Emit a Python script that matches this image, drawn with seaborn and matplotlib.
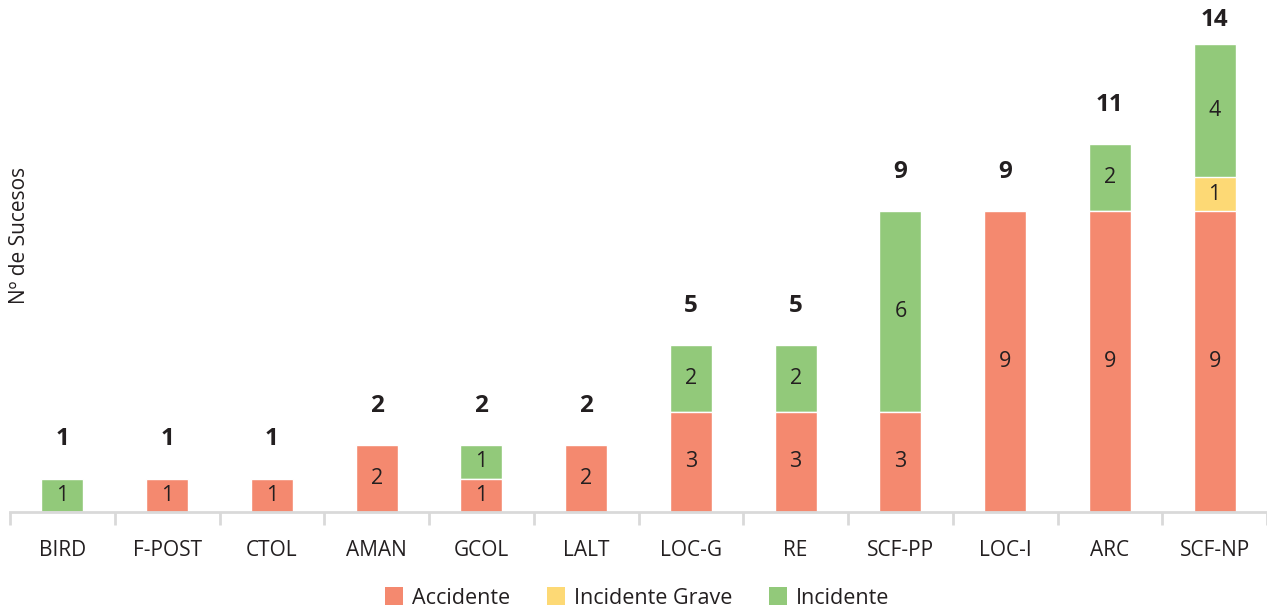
import numpy as np
import pandas as pd
import matplotlib
matplotlib.use("Agg")
import matplotlib.pyplot as plt
import seaborn as sns
from matplotlib.patches import Patch

categories = ["BIRD", "F-POST", "CTOL", "AMAN", "GCOL", "LALT",
              "LOC-G", "RE", "SCF-PP", "LOC-I", "ARC", "SCF-NP"]
accidente = [0, 1, 1, 2, 1, 2, 3, 3, 3, 9, 9, 9]
incidente_grave = [0, 0, 0, 0, 0, 0, 0, 0, 0, 0, 0, 1]
incidente = [1, 0, 0, 0, 1, 0, 2, 2, 6, 0, 2, 4]
series_names = ["Accidente", "Incidente Grave", "Incidente"]

colors = {"Accidente": "#F4896F", "Incidente Grave": "#FDD975", "Incidente": "#92C97A"}
text_color = "#231F20"
axis_gray = "#D9D9D9"

sns.set_style("white")
plt.rcParams["font.family"] = ["Open Sans", "DejaVu Sans"]

acc = np.array(accidente)
grv = np.array(incidente_grave)
inc = np.array(incidente)
total = acc + grv + inc

df = pd.DataFrame({
    "cat": categories,
    "acc": acc,
    "acc_grv": acc + grv,
    "total": total,
})

fig = plt.figure(figsize=(12.67, 6.13), dpi=100)
ax = fig.add_axes([10 / 1267, 1 - 512 / 613, 1257 / 1267, 512 / 613])

# Stacked bars drawn as cumulative layers, tallest first
bw = 0.4
sns.barplot(data=df, x="cat", y="total", color=colors["Incidente"], width=bw,
            saturation=1, ax=ax, order=categories)
sns.barplot(data=df, x="cat", y="acc_grv", color=colors["Incidente Grave"], width=bw,
            saturation=1, ax=ax, order=categories)
sns.barplot(data=df, x="cat", y="acc", color=colors["Accidente"], width=bw,
            saturation=1, ax=ax, order=categories)

ymax = 15.3
ax.set_xlim(-0.5, len(categories) - 0.5)
ax.set_ylim(0, ymax)

# Segment labels and totals above each bar
for i in range(len(categories)):
    base = 0
    for v in (acc[i], grv[i], inc[i]):
        if v > 0:
            ax.text(i, base + v / 2, str(v), ha="center", va="center",
                    fontsize=15.5, color=text_color)
        base += v
    ty = min(total[i] + 1.17, ymax - 0.6)
    ax.text(i, ty, str(total[i]), ha="center", va="center",
            fontsize=17.5, fontweight="bold", color=text_color)

# Axes styling
for side in ("top", "right", "left"):
    ax.spines[side].set_visible(False)
ax.spines["bottom"].set_color(axis_gray)
ax.spines["bottom"].set_linewidth(2)
ax.set_yticks([])
ax.set_xlabel("")
ax.set_ylabel("")
fig.text(20 / 1267, 1 - 235 / 613, "Nº de Sucesos", rotation=90, ha="center", va="center",
         fontsize=15, color=text_color)

ax.set_xticks(np.arange(len(categories)))
ax.set_xticklabels(categories, fontsize=15, color=text_color)
ax.tick_params(axis="x", which="major", bottom=False, length=0, pad=20)
ax.set_xticks(np.arange(-0.5, len(categories), 1.0), minor=True)
ax.tick_params(axis="x", which="minor", bottom=True, length=9, width=2, color=axis_gray)

handles = [Patch(facecolor=colors[n], edgecolor="none", label=n) for n in series_names]
fig.legend(handles=handles, loc="center", bbox_to_anchor=(637 / 1267, 1 - 598 / 613),
           ncol=3, frameon=False, fontsize=15.5, handlelength=0.85, handleheight=0.85,
           handletextpad=0.4, columnspacing=1.7, labelcolor=text_color)

fig.savefig("out.png", dpi=100)
